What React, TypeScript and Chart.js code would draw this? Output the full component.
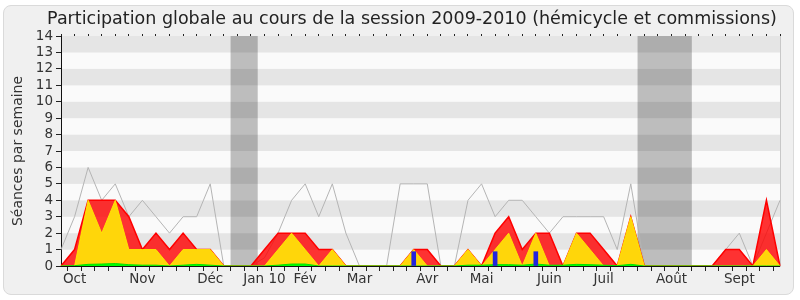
import React, { useEffect, useRef } from 'react';
import { Chart, registerables } from 'chart.js';

Chart.register(...registerables);

const FONT = 'DejaVu Sans';
const TITLE = 'Participation globale au cours de la session 2009-2010 (hémicycle et commissions)';
const Y_TITLE = 'Séances par semaine';

// one entry per week (54 weeks); month names where the month label sits
const weekLabels = [
  '', 'Oct', '', '', '', '', 'Nov', '', '', '', '', 'Déc', '', '', '', 'Jan 10', '', '', 'Fév', '', '',
  '', 'Mar', '', '', '', '', 'Avr', '', '', '', 'Mai', '', '', '', '', 'Juin', '', '', '', 'Juil', '',
  '', '', '', 'Août', '', '', '', '', 'Sept', '', '', '',
];

// grey line
const presenceMax = [
  1, 3, 6, 4, 5, 3, 4, 3, 2, 3, 3, 5, 0, 0, 0, 0.5, 2, 4, 5, 3, 5, 2, 0, 0, 0, 5, 5,
  5, 0, 0, 4, 5, 3, 4, 4, 3, 2, 3, 3, 3, 3, 1, 5, 0, 0, 0, 0, 0, 0, 1, 2, 0, 2, 4,
];
// red area
const presences = [
  0, 1, 4, 4, 4, 3, 1, 2, 1, 2, 1, 1, 0, 0, 0, 1, 2, 2, 2, 1, 1, 0, 0, 0, 0, 0, 1,
  1, 0, 0, 1, 0, 2, 3, 1, 2, 2, 0, 2, 2, 1, 0, 3, 0, 0, 0, 0, 0, 0, 1, 1, 0, 4, 0,
];
// yellow area
const participations = [
  0, 0, 4, 2, 4, 1, 1, 1, 0, 1, 1, 1, 0, 0, 0, 0, 1, 2, 1, 0, 1, 0, 0, 0, 0, 0, 1,
  0, 0, 0, 1, 0, 1, 2, 0, 2, 0, 0, 2, 1, 0, 0, 3, 0, 0, 0, 0, 0, 0, 0, 0, 0, 1, 0,
];
// green area
const interventions = [
  0, 0.02, 0.1, 0.12, 0.15, 0.08, 0.05, 0.05, 0, 0.05, 0.1, 0.05, 0, 0, 0, 0, 0.05, 0.12, 0.12, 0, 0, 0, 0, 0, 0, 0, 0,
  0, 0, 0, 0.05, 0.05, 0.08, 0.08, 0.05, 0.12, 0.05, 0.05, 0.1, 0.08, 0.05, 0.02, 0.1, 0, 0, 0, 0, 0, 0, 0, 0, 0, 0, 0,
];
// blue bars
const questions = [
  null, null, null, null, null, null, null, null, null, null, null, null, null, null, null, null, null, null,
  null, null, null, null, null, null, null, null, 0.87, null, null, null, null, null, 0.87, null, null, 0.87,
  null, null, null, null, null, null, null, null, null, null, null, null, null, null, null, null, null, null,
];
// holiday weeks (first, last week index)
const vacations: [number, number][] = [[13, 14], [43, 46]];
const Y_MAX = 14;

const backgroundPlugin = {
  id: 'stripesAndHolidays',
  beforeDraw(chart: any) {
    const { ctx, chartArea: a, scales } = chart;
    const x = scales.x;
    const y = scales.y;
    ctx.save();
    for (let v = 0; v < Y_MAX; v++) {
      const top = y.getPixelForValue(v + 1);
      const bot = y.getPixelForValue(v);
      ctx.fillStyle = v % 2 === 1 ? '#e5e5e5' : '#fafafa';
      ctx.fillRect(a.left, top, a.right - a.left, bot - top);
    }
    vacations.forEach(([s, e]) => {
      const l = x.getPixelForValue(s - 0.5);
      const r = x.getPixelForValue(e + 0.5);
      ctx.fillStyle = 'rgba(0,0,0,0.245)';
      ctx.fillRect(l, a.top, r - l, a.bottom - a.top);
    });
    ctx.restore();
  },
};

const titlePlugin = {
  id: 'mainTitle',
  afterDraw(chart: any) {
    const { ctx } = chart;
    ctx.save();
    ctx.font = `17.5px "${FONT}"`;
    ctx.fillStyle = '#222';
    ctx.textAlign = 'center';
    ctx.textBaseline = 'middle';
    ctx.fillText(TITLE, 412, 19);
    ctx.restore();
  },
};

export default function App() {
  const ref = useRef<HTMLCanvasElement | null>(null);

  useEffect(() => {
    if (!ref.current) return;
    const chart = new Chart(ref.current, {
      type: 'line',
      data: {
        labels: weekLabels,
        datasets: [
          {
            type: 'line',
            data: presenceMax,
            borderColor: '#b4b4b4',
            borderWidth: 1,
            pointRadius: 0,
            fill: false,
            tension: 0,
            order: 5,
          },
          {
            type: 'line',
            data: presences,
            borderColor: '#ff0000',
            backgroundColor: 'rgba(255,0,0,0.8)',
            borderWidth: 1.5,
            pointRadius: 0,
            fill: 'origin',
            tension: 0,
            order: 4,
          },
          {
            type: 'line',
            data: participations,
            borderColor: 'rgba(255,235,0,0.9)',
            backgroundColor: '#ffd60a',
            borderWidth: 1,
            pointRadius: 0,
            fill: 'origin',
            tension: 0,
            order: 3,
          },
          {
            type: 'line',
            data: interventions,
            borderColor: '#00e000',
            backgroundColor: '#00ff00',
            borderWidth: 1,
            pointRadius: 0,
            fill: 'origin',
            tension: 0,
            order: 2,
          },
          {
            type: 'bar',
            data: questions as any,
            backgroundColor: '#2323dd',
            barThickness: 4,
            order: 1,
          },
        ],
      },
      options: {
        animation: false,
        responsive: false,
        devicePixelRatio: 1,
        layout: { padding: 0 },
        plugins: {
          legend: { display: false },
          tooltip: { enabled: false },
          title: { display: false },
        },
        scales: {
          x: {
            type: 'category',
            position: 'bottom',
            offset: false,
            z: 1,
            grid: { display: true, drawOnChartArea: false, drawTicks: true, tickLength: 5, color: '#222' },
            border: { display: true, color: '#111', width: 1 },
            ticks: {
              autoSkip: false,
              maxRotation: 0,
              minRotation: 0,
              padding: 0,
              color: '#333',
              font: { family: FONT, size: 13.5 },
            },
            afterFit(s: any) { s.height = 34; },
          },
          xTop: {
            type: 'category',
            position: 'top',
            offset: false,
            grid: { display: true, drawOnChartArea: false, drawTicks: true, tickLength: 2, color: '#222' },
            border: { display: false },
            ticks: { display: false, autoSkip: false },
            afterFit(s: any) { s.height = 36; },
          },
          y: {
            type: 'linear',
            position: 'left',
            min: 0,
            max: Y_MAX,
            grid: { display: true, drawOnChartArea: false, drawTicks: true, tickLength: 5, color: '#222' },
            border: { display: true, color: '#111', width: 1 },
            ticks: {
              stepSize: 1,
              autoSkip: false,
              padding: 3,
              color: '#333',
              font: { family: FONT, size: 13.5 },
            },
            title: {
              display: true,
              text: Y_TITLE,
              color: '#333',
              font: { family: FONT, size: 14 },
              padding: { top: 10, bottom: 0 },
            },
            afterFit(s: any) { s.width = 61; },
          },
          yRight: {
            type: 'linear',
            position: 'right',
            min: 0,
            max: Y_MAX,
            grid: { display: true, drawOnChartArea: false, drawTicks: false },
            border: { display: true, color: '#c8c8c8', width: 1 },
            ticks: { display: false },
            afterFit(s: any) { s.width = 20; },
          },
        },
      } as any,
      plugins: [backgroundPlugin, titlePlugin],
    });
    return () => chart.destroy();
  }, []);

  return (
    <div style={{ position: 'fixed', left: 0, top: 0, width: 800, height: 300, background: '#fff' }}>
      <div
        style={{
          position: 'absolute',
          left: 3,
          top: 5,
          width: 791,
          height: 290,
          boxSizing: 'border-box',
          border: '1px solid #dadada',
          borderRadius: 8,
          background: '#f0f0f0',
        }}
      />
      <canvas
        ref={ref}
        width={800}
        height={300}
        style={{ position: 'absolute', left: 0, top: 0, width: 800, height: 300 }}
      />
    </div>
  );
}
